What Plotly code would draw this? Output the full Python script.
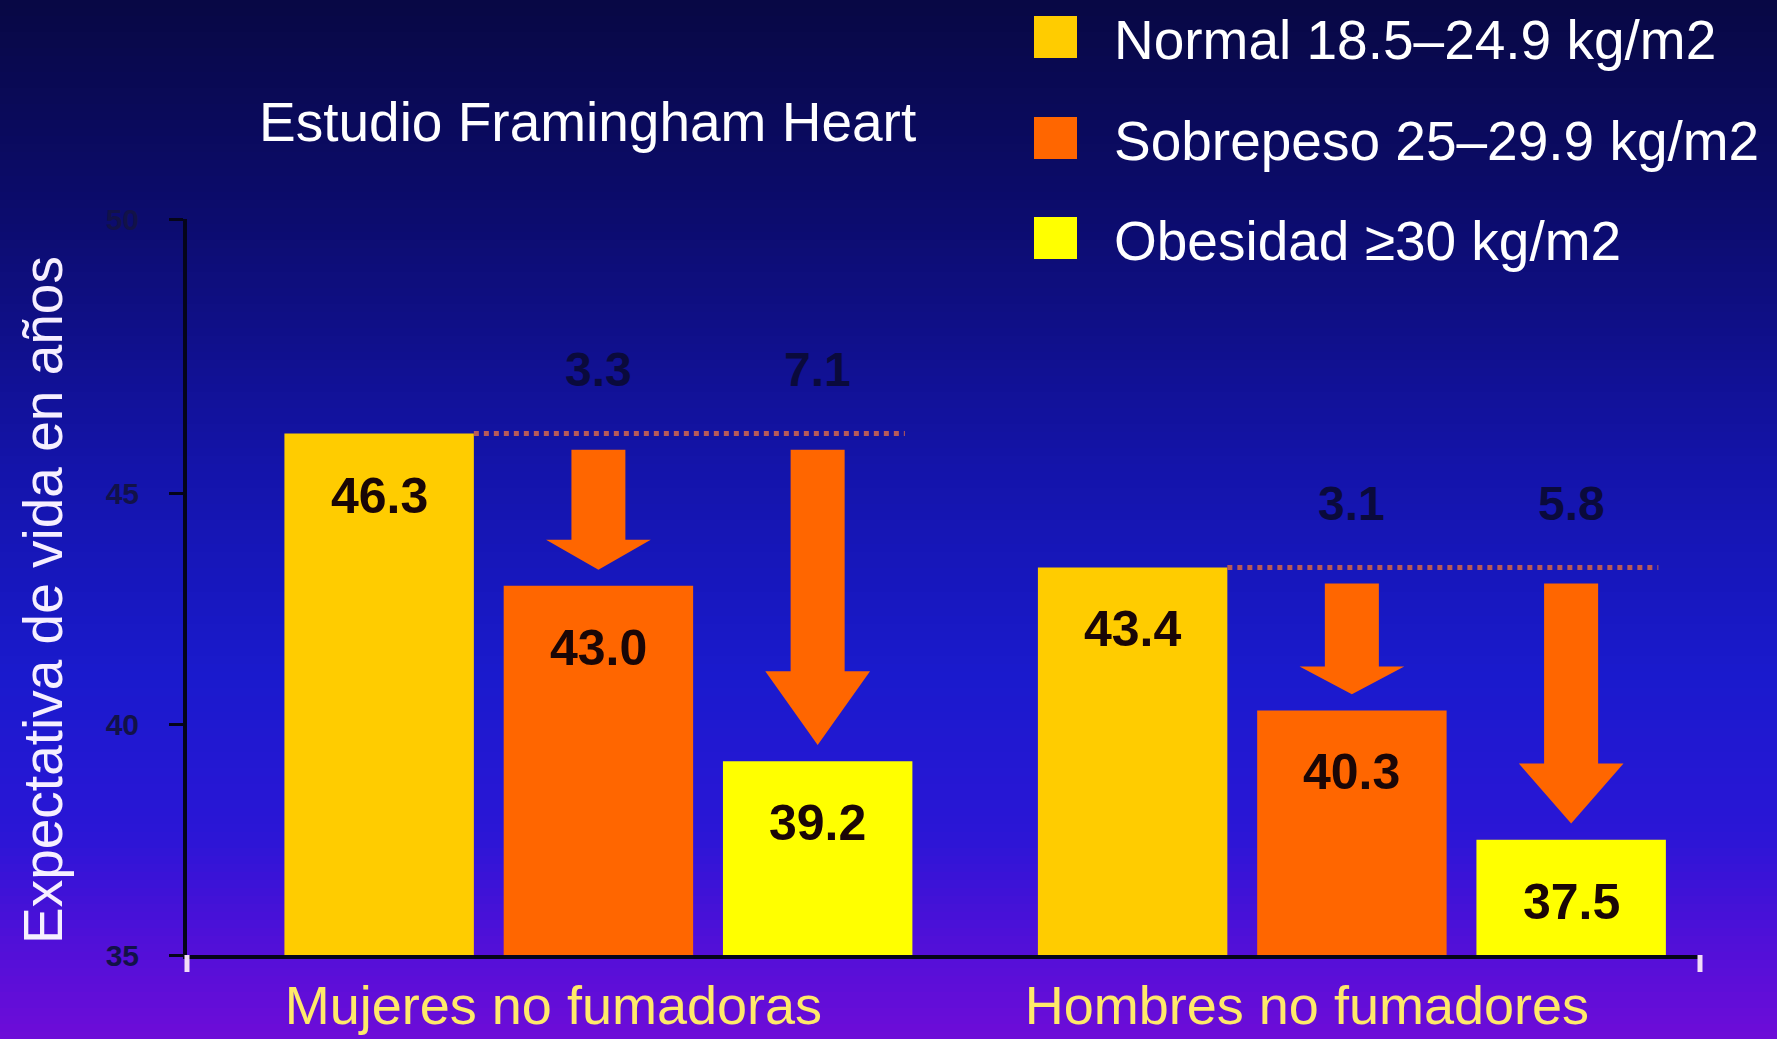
import plotly.graph_objects as go

# data
groups = ["Mujeres no fumadoras", "Hombres no fumadores"]
series = ["Normal 18.5–24.9 kg/m2", "Sobrepeso 25–29.9 kg/m2", "Obesidad ≥30 kg/m2"]
normal = [46.3, 43.4]
sobrepeso = [43.0, 40.3]
obesidad = [39.2, 37.5]
loss_sobrepeso = [3.3, 3.1]
loss_obesidad = [7.1, 5.8]
y_ticks = [35, 40, 45, 50]

colors = ["#FFCC00", "#FF6600", "#FFFF00"]
FONT = "Liberation Sans, Arial, sans-serif"

W, H = 1777, 1039
ML, MR, MT, MB = 187, 77, 219, 84
PW, PH = W - ML - MR, H - MT - MB

Y_MIN, Y_TOP = 35, 50.95   # the slide's axis runs a bit past 50
X_RANGE = [-0.546, 1.462]
BARGAP, GROUPGAP = 0.127, 0.136
SLOT = (1 - BARGAP) / 3
BAR_W = SLOT * (1 - GROUPGAP)


def px_x(px):
    return (px - ML) / PW


def px_y(py):
    return (H - MB - py) / PH


def mix(c1, c2, t):
    return "rgb(%d,%d,%d)" % tuple(round(a + (b - a) * t) for a, b in zip(c1, c2))


# vertical gradient of the slide background
stops = [(0.0, (8, 8, 68)), (0.22, (12, 12, 112)), (0.45, (20, 20, 170)),
         (0.65, (26, 26, 205)), (0.8, (42, 22, 214)), (0.9, (78, 16, 216)),
         (1.0, (110, 12, 216))]


def grad(f):
    for (f0, c0), (f1, c1) in zip(stops, stops[1:]):
        if f <= f1:
            return mix(c0, c1, (f - f0) / (f1 - f0))
    return mix(stops[-1][1], stops[-1][1], 0)


shapes = []
band = 8
for py in range(0, H, band):
    shapes.append(dict(
        type="rect", xref="paper", yref="paper", layer="below",
        x0=px_x(0), x1=px_x(W), y0=px_y(py), y1=px_y(min(py + band + 1, H)),
        fillcolor=grad((py + band / 2) / H), line=dict(width=0),
    ))

fig = go.Figure()
for name, vals, col in zip(series, [normal, sobrepeso, obesidad], colors):
    fig.add_trace(go.Bar(
        x=list(range(len(groups))), y=vals, name=name,
        marker=dict(color=col, line=dict(width=0)),
        showlegend=False, hoverinfo="skip",
    ))

annotations = []

# value labels inside the bars
for k, vals in enumerate([normal, sobrepeso, obesidad]):
    for g, v in enumerate(vals):
        annotations.append(dict(
            x=g + (k - 1) * SLOT, y=v, xref="x", yref="y", yshift=-62,
            text=f"{v:.1f}", showarrow=False, xanchor="center", yanchor="middle",
            font=dict(family=FONT, size=50, color="#1a0606", weight=700),
        ))

# reference line, arrows and losses
SHAFT, HEAD = 0.0717 / 2, 0.139 / 2


def arrow_path(xc, top, tip):
    base = tip + 0.25 * (top - tip)
    pts = [(xc - SHAFT, top), (xc + SHAFT, top), (xc + SHAFT, base), (xc + HEAD, base),
           (xc, tip), (xc - HEAD, base), (xc - SHAFT, base)]
    return "M " + " L ".join(f"{x:.4f},{y:.3f}" for x, y in pts) + " Z"


for g in range(len(groups)):
    ref = normal[g]
    shapes.append(dict(
        type="line", xref="x", yref="y",
        x0=g - SLOT + BAR_W / 2, x1=g + SLOT + BAR_W / 2 - 0.01, y0=ref, y1=ref,
        line=dict(color="#b85a58", width=5, dash="dot"),
    ))
    for k, (vals, losses) in enumerate([(sobrepeso, loss_sobrepeso), (obesidad, loss_obesidad)]):
        xc = g + k * SLOT
        shapes.append(dict(
            type="path", xref="x", yref="y",
            path=arrow_path(xc, ref - 0.35, vals[g] + 0.35),
            fillcolor="#FF6600", line=dict(width=0),
        ))
        annotations.append(dict(
            x=xc, y=ref, xref="x", yref="y", yshift=64,
            text=f"{losses[g]:.1f}", showarrow=False, xanchor="center", yanchor="middle",
            font=dict(family=FONT, size=48, color="#0a0a3c", weight=700),
        ))

# small pale ticks at the ends of the x axis
for xe in [0, 1]:
    shapes.append(dict(
        type="line", xref="paper", yref="paper",
        x0=xe, x1=xe, y0=px_y(H - MB), y1=px_y(H - MB + 17),
        line=dict(color="#f2dcf8", width=5),
    ))

# hand-made legend
legend_rows = [37, 138, 238]
for name, col, py in zip(series, colors, legend_rows):
    shapes.append(dict(
        type="rect", xref="paper", yref="paper",
        x0=px_x(1034), x1=px_x(1077), y0=px_y(py + 21), y1=px_y(py - 21),
        fillcolor=col, line=dict(width=0),
    ))
    annotations.append(dict(
        x=px_x(1112), y=px_y(py + 3), xref="paper", yref="paper",
        text=name, showarrow=False, xanchor="left", yanchor="middle",
        font=dict(family=FONT, size=55, color="white"),
    ))

annotations.append(dict(
    x=px_x(587), y=px_y(122), xref="paper", yref="paper",
    text="Estudio Framingham Heart", showarrow=False,
    xanchor="center", yanchor="middle",
    font=dict(family=FONT, size=55, color="white"),
))
annotations.append(dict(
    x=px_x(43), y=px_y(600), xref="paper", yref="paper", textangle=-90,
    text="Expectativa de vida en años", showarrow=False,
    xanchor="center", yanchor="middle",
    font=dict(family=FONT, size=55, color="#f6efff"),
))

fig.update_layout(
    width=W, height=H,
    margin=dict(l=ML, r=MR, t=MT, b=MB, pad=0),
    paper_bgcolor="rgb(8,8,68)", plot_bgcolor="rgba(0,0,0,0)",
    barmode="group", bargap=BARGAP, bargroupgap=GROUPGAP,
    shapes=shapes, annotations=annotations, showlegend=False,
    font=dict(family=FONT),
)
fig.update_xaxes(
    range=X_RANGE, tickvals=list(range(len(groups))), ticktext=groups,
    showgrid=False, zeroline=False, showline=True, linecolor="#05051a", linewidth=4,
    ticks="", ticklabelshift=-45, ticklabelstandoff=0, automargin=False,
    tickfont=dict(family=FONT, size=54, color="#FFE96A"),
)
fig.update_yaxes(
    range=[Y_MIN, Y_TOP],
    tickvals=y_ticks[:-1] + [Y_TOP], ticktext=[str(t) for t in y_ticks],
    showgrid=False, zeroline=False, showline=True, linecolor="#05051a", linewidth=4,
    ticks="outside", ticklen=14, tickwidth=3, tickcolor="#05051a", ticklabelstandoff=24,
    automargin=False,
    tickfont=dict(family=FONT, size=30, color="#121248", weight=700),
)

fig.write_html("out.html", config={"displayModeBar": False},
               post_script="document.body.style.margin='0';")
